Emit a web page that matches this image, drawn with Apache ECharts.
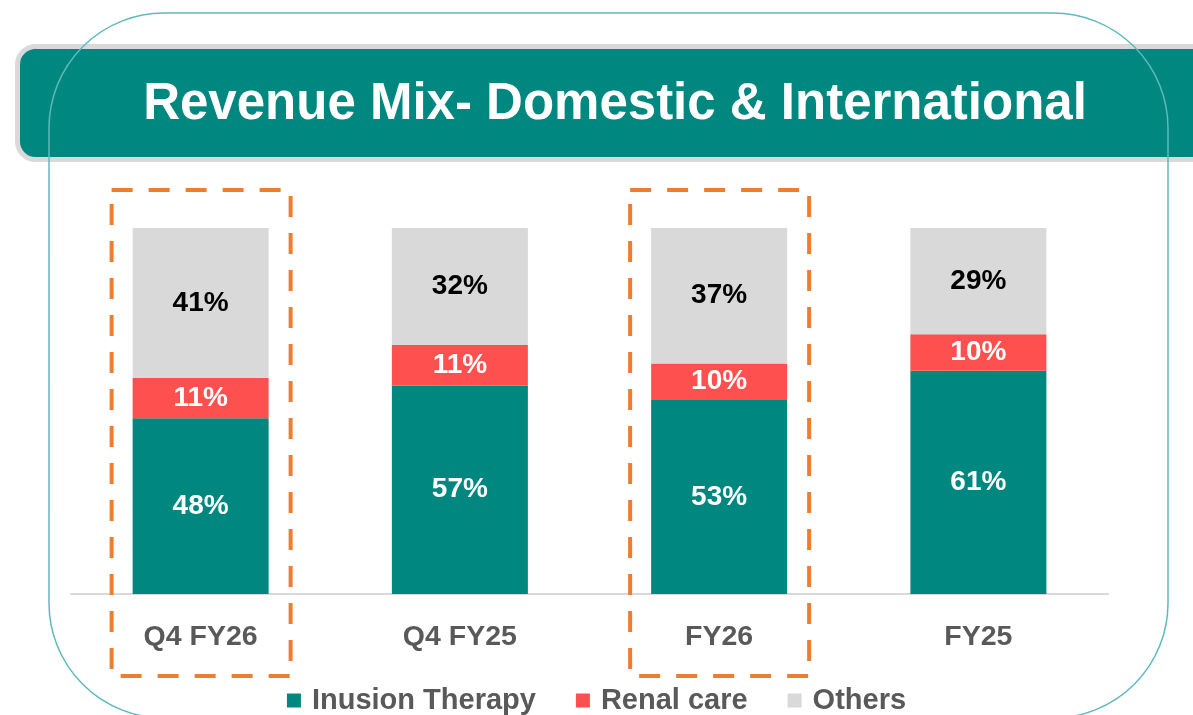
<!DOCTYPE html>
<html lang="en" style="height: 100%">
<head>
	<meta charset="utf-8">
	<title>Revenue Mix</title>
</head>
<body style='height: 100%; margin: 0; background: #ffffff'>
<div id='container' style='width: 1193px; height: 715px'></div>
<script type='text/javascript' src='https://cdn.jsdelivr.net/npm/echarts@6/dist/echarts.min.js'></script>
<script type="text/javascript">

	// data
	var categories = ['Q4 FY26', 'Q4 FY25', 'FY26', 'FY25'];
	var infusion = [48, 57, 53, 61];
	var renal = [11, 11, 10, 10];
	var others = [41, 32, 37, 29];
	var highlighted = ['Q4 FY26', 'FY26'];

	var teal = '#00877f';
	var red = '#ff5050';
	var grey = '#d9d9d9';
	var orange = '#ed7d31';
	var font = '"Liberation Sans", Arial, sans-serif';

	var dom = document.getElementById('container');
	var myChart = echarts.init(dom, null, {renderer: 'canvas'});

	function seg(name, data, color, labelColor) {
		return {
			name: name,
			type: 'bar',
			stack: 'mix',
			barWidth: 136,
			data: data,
			itemStyle: {color: color},
			label: {
				show: true,
				position: 'inside',
				formatter: '{c}%',
				color: labelColor,
				fontFamily: font,
				fontWeight: 'bold',
				fontSize: 28
			}
		};
	}

	var option = {
		animation: false,
		grid: {left: 71, right: 85, top: 228, bottom: 121},
		legend: {
			top: 681,
			left: 'center',
			icon: 'rect',
			itemWidth: 14,
			itemHeight: 14,
			itemGap: 40,
			textStyle: {
				color: '#595959',
				fontFamily: font,
				fontWeight: 'bold',
				fontSize: 29,
				padding: [0, 0, 0, 6]
			},
			data: ['Inusion Therapy', 'Renal care', 'Others']
		},
		xAxis: {
			type: 'category',
			data: categories,
			axisLine: {lineStyle: {color: '#d9d9d9', width: 2}},
			axisTick: {show: false},
			axisLabel: {
				margin: 29,
				color: '#595959',
				fontFamily: font,
				fontWeight: 'bold',
				fontSize: 28.5
			}
		},
		yAxis: {
			type: 'value',
			min: 0,
			max: 100,
			show: false,
			splitLine: {show: false}
		},
		series: [
			seg('Inusion Therapy', infusion, teal, '#ffffff'),
			seg('Renal care', renal, red, '#ffffff'),
			seg('Others', others, grey, '#000000')
		]
	};

	myChart.setOption(option);

	// title band, outer rounded frame and dashed highlight boxes
	var graphics = [
		{
			type: 'rect',
			z: 10,
			shape: {x: 17.5, y: 46.5, width: 1220, height: 113, r: 18},
			style: {fill: teal, stroke: grey, lineWidth: 5}
		},
		{
			type: 'text',
			z: 12,
			x: 615,
			y: 105,
			style: {
				text: 'Revenue Mix- Domestic & International',
				fill: '#ffffff',
				font: 'bold 51px ' + font,
				textAlign: 'center',
				textVerticalAlign: 'middle'
			}
		},
		{
			type: 'rect',
			z: 11,
			shape: {x: 49, y: 13, width: 1119, height: 705, r: 115},
			style: {fill: null, stroke: '#5fb9bd', lineWidth: 1.5}
		}
	];
	highlighted.forEach(function (c) {
		var cx = myChart.convertToPixel({xAxisIndex: 0}, c);
		graphics.push({
			type: 'rect',
			z: 9,
			shape: {x: cx - 89, y: 190, width: 179, height: 486},
			style: {fill: null, stroke: orange, lineWidth: 4, lineDash: [21, 16]}
		});
	});
	myChart.setOption({graphic: graphics});

	window.addEventListener('resize', myChart.resize);
</script>
</body>
</html>
